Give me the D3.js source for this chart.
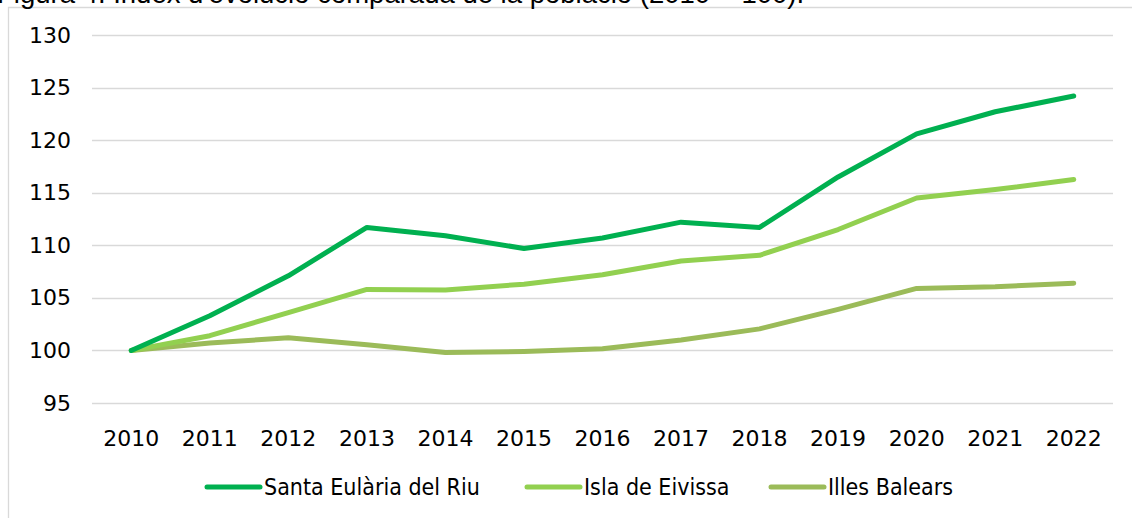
<!DOCTYPE html>
<meta charset="utf-8">
<style>
body { margin: 0; background: #fff; }
.grid line { stroke: #d9d9d9; stroke-width: 1.3px; }
.axis text { font-family: "DejaVu Sans", sans-serif; font-size: 22px; fill: #000; }
.line { fill: none; stroke-width: 5px; stroke-linecap: round; stroke-linejoin: round; }
</style>
<svg width="1132" height="518"></svg>
<script src="https://d3js.org/d3.v7.min.js"></script>
<script>
// data
var years = ["2010","2011","2012","2013","2014","2015","2016","2017","2018","2019","2020","2021","2022"];
var santaEularia = [100, 103.3, 107.1, 111.7, 110.9, 109.7, 110.7, 112.2, 111.7, 116.5, 120.6, 122.7, 124.2];
var islaEivissa = [100, 101.4, 103.6, 105.8, 105.75, 106.3, 107.2, 108.5, 109.05, 111.5, 114.5, 115.3, 116.25];
var illesBalears = [100, 100.7, 101.2, 100.55, 99.8, 99.9, 100.15, 101.0, 102.05, 103.9, 105.9, 106.05, 106.4];
var yTicks = [95, 100, 105, 110, 115, 120, 125, 130];

var series = [
  {id: "Santa Eulària del Riu", values: santaEularia, color: "#00b050"},
  {id: "Isla de Eivissa", values: islaEivissa, color: "#92d050"},
  {id: "Illes Balears", values: illesBalears, color: "#9bbb59"}
];

var svg = d3.select("svg");

// chart border (top/left visible, runs off the image)
svg.append("path")
    .attr("d", "M8.5,518 V7.5 H1132")
    .attr("fill", "none")
    .attr("stroke", "#d9d9d9")
    .attr("stroke-width", 1.3);

// title, cropped by the top edge like in the source
svg.append("text")
    .attr("x", -3)
    .attr("y", 3)
    .style("font-family", "Liberation Sans, Arial, sans-serif")
    .style("font-size", "27.5px")
    .text("Figura 4. Índex d'evolució comparada de la població (2010 = 100).");

var x = d3.scaleBand().domain(years).range([92, 1113]);
var y = d3.scaleLinear().domain([95, 130]).range([403, 35]);

// gridlines
svg.append("g")
    .attr("class", "grid")
  .selectAll("line")
  .data(yTicks)
  .enter().append("line")
    .attr("x1", 92)
    .attr("x2", 1113)
    .attr("y1", function(d) { return Math.round(y(d)) + 0.5; })
    .attr("y2", function(d) { return Math.round(y(d)) + 0.5; });

// y axis
var yAxis = svg.append("g")
    .attr("class", "axis")
    .attr("transform", "translate(71,0)")
    .call(d3.axisLeft(y).tickValues(yTicks).tickSize(0).tickPadding(0));
yAxis.select(".domain").remove();

// x axis
var xAxis = svg.append("g")
    .attr("class", "axis")
    .attr("transform", "translate(0,430)")
    .call(d3.axisBottom(x).tickSize(0).tickPadding(0));
xAxis.select(".domain").remove();

var line = d3.line()
    .x(function(d, i) { return x(years[i]) + x.bandwidth() / 2; })
    .y(function(d) { return y(d); });

// draw from back to front
series.slice().reverse().forEach(function(s) {
  svg.append("path")
      .attr("class", "line")
      .attr("d", line(s.values))
      .style("stroke", s.color);
});

// legend
var legendX = [205, 525, 769];
var legend = svg.append("g")
  .selectAll("g")
  .data(series)
  .enter().append("g")
    .attr("transform", function(d, i) { return "translate(" + legendX[i] + ",487)"; });

legend.append("line")
    .attr("x1", 2)
    .attr("x2", 55)
    .attr("stroke", function(d) { return d.color; })
    .attr("stroke-width", 5)
    .attr("stroke-linecap", "round");

legend.append("text")
    .attr("x", 59)
    .attr("dy", "0.36em")
    .style("font-family", "DejaVu Sans Condensed, DejaVu Sans, sans-serif")
    .style("font-stretch", "condensed")
    .style("font-size", "23px")
    .text(function(d) { return d.id; });
</script>
